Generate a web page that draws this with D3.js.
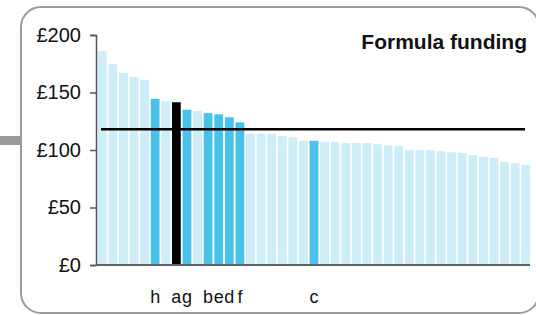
<!DOCTYPE html>
<html><head><meta charset="utf-8">
<script src="https://cdn.jsdelivr.net/npm/d3@7"></script>
<style>html,body{margin:0;padding:0;background:#fff;}svg{display:block;}</style>
</head><body>
<svg id="chart" width="536" height="315"></svg>
<script>
const values = [186,175,167,163.5,161,144.5,142.5,141.5,135,134,132,131,128.5,124,114,114,114,112,111,108,108,107,107,106,106,106,105,104,103.5,100,100,100,99,98,97.5,95.5,94,93,89.5,88.5,87];
const labels = ["","","","","","h","","a","g","","b","e","d","f","","","","","","","c","","","","","","","","","","","","","","","","","","","",""];
const kinds  = ["l","l","l","l","l","d","l","k","d","l","d","d","d","d","l","l","l","l","l","l","d","l","l","l","l","l","l","l","l","l","l","l","l","l","l","l","l","l","l","l","l"];
const yTicks = [0,50,100,150,200];
const average = 118;
const title = "Formula funding";

const colors = {l:"#cdedf9", d:"#48c1eb", k:"#000000"};
const svg = d3.select("#chart");
const font = "'Liberation Sans', Arial, Helvetica, sans-serif";

// frame
svg.append("rect").attr("x",0).attr("y",136).attr("width",21).attr("height",9).attr("fill","#9a9a9a");
svg.append("rect").attr("x",21).attr("y",7).attr("width",518).attr("height",306).attr("rx",20).attr("ry",20)
  .attr("fill","#fff").attr("stroke","#9a9a9a").attr("stroke-width",2);

const idx = values.map((d,i)=>i);
const x = d3.scaleBand().domain(idx).range([97,531]).paddingInner(0.17).paddingOuter(0.08);
const y = d3.scaleLinear().domain([0,200]).range([265,35]);

svg.append("g").selectAll("rect").data(values).join("rect")
  .attr("x",(d,i)=>x(i)).attr("width",x.bandwidth())
  .attr("y",d=>y(d)).attr("height",d=>y(0)-y(d))
  .attr("fill",(d,i)=>colors[kinds[i]]);

// y axis
const yAxis = svg.append("g").attr("transform","translate(96,0)")
  .call(d3.axisLeft(y).tickValues(yTicks).tickSize(6).tickPadding(9).tickFormat(d=>"£"+d));
yAxis.select(".domain").attr("stroke","#555").attr("stroke-width",1.5);
yAxis.selectAll(".tick line").attr("stroke","#555").attr("stroke-width",1.5);
yAxis.selectAll("text").attr("font-family",font).attr("font-size",20).attr("fill","#111");

// baseline
svg.append("line").attr("x1",96).attr("x2",530).attr("y1",y(0)).attr("y2",y(0))
  .attr("stroke","#58666c").attr("stroke-width",2);

// average line
svg.append("line").attr("x1",101).attr("x2",525).attr("y1",y(average)).attr("y2",y(average))
  .attr("stroke","#000").attr("stroke-width",2.4);

// labels
svg.append("g").selectAll("text").data(labels).join("text")
  .attr("x",(d,i)=>x(i)+x.bandwidth()/2).attr("y",303)
  .attr("text-anchor","middle").attr("font-family",font).attr("font-size",18).attr("fill","#111")
  .text(d=>d);

svg.append("text").attr("x",527).attr("y",49).attr("text-anchor","end")
  .attr("font-family",font).attr("font-weight","bold").attr("font-size",21).attr("fill","#111").text(title);
</script>
</body></html>
